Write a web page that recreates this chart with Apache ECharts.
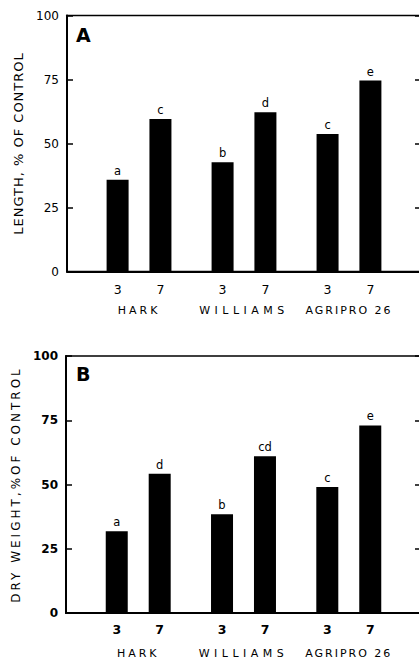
<!DOCTYPE html>
<html><head><meta charset="utf-8">
<script src="https://cdn.jsdelivr.net/npm/echarts@6/dist/echarts.min.js"></script>
<style>
html,body{margin:0;padding:0;background:#fff;}
#c{width:419px;height:659px;}
text[style*="lsYA"]{letter-spacing:1px;}
text[style*="lsYB"]{letter-spacing:3px;}
text[style*="lsH"]{letter-spacing:3px;}
text[style*="lsW"]{letter-spacing:4.5px;}
text[style*="lsP"]{letter-spacing:2px;}
</style></head><body><div id="c"></div>
<script>
// ---- data ----
const cultivars = ['HARK', 'WILLIAMS', 'AGRIPRO 26'];
const days = ['3', '7'];
const lengthDay3 = [35.8, 42.7, 53.7];
const lengthDay7 = [59.6, 62.2, 74.6];
const dryDay3 = [31.8, 38.4, 49.0];
const dryDay7 = [54.2, 61.0, 73.0];
const lengthLetters3 = ['a', 'b', 'c'];
const lengthLetters7 = ['c', 'd', 'e'];
const dryLetters3 = ['a', 'b', 'c'];
const dryLetters7 = ['d', 'cd', 'e'];
const yTicks = [0, 25, 50, 75, 100];
const yTitles = ['LENGTH, % OF CONTROL', 'DRY WEIGHT,%OF CONTROL'];
const panelLabels = ['A', 'B'];

// ---- layout / style ----
const HALF = 0.204, XMIN = -0.686, XMAX = 2.686;
const FF = 'DejaVu Sans';
const nameKeys = ['h', 'w', 'p'];
const panels = [
  {top: 15.5, height: 256, left: 67, bold: 'normal', d3: lengthDay3, d7: lengthDay7, l3: lengthLetters3, l7: lengthLetters7,
   dayMargin: 11, nameMargin: 33, yName: 'lsYA', yNameSize: 13, yNameGap: 40, titleTop: 25},
  {top: 356, height: 257, left: 66, bold: 'bold', d3: dryDay3, d7: dryDay7, l3: dryLetters3, l7: dryLetters7,
   dayMargin: 10, nameMargin: 35, yName: 'lsYB', yNameSize: 12, yNameGap: 42, titleTop: 364}
];

const option = {
  animation: false,
  backgroundColor: '#fff',
  title: [], grid: [], xAxis: [], yAxis: [], series: []
};

panels.forEach((p, i) => {
  option.title.push({
    text: panelLabels[i], left: 76, top: p.titleTop, padding: 0,
    textStyle: {fontSize: 19, fontWeight: 'bold', color: '#000', fontFamily: FF}
  });
  option.grid.push({
    left: p.left, top: p.top, width: 421 - p.left, height: p.height,
    show: true, borderColor: '#000', borderWidth: 1.5, backgroundColor: 'transparent',
    containLabel: false, outerBoundsMode: 'none'
  });
  const dayPos = [];
  cultivars.forEach((c, g) => { dayPos.push(g - HALF, g + HALF); });
  option.xAxis.push({
    type: 'value', gridIndex: i, min: XMIN, max: XMAX, position: 'bottom',
    splitLine: {show: false},
    axisLine: {show: true, onZero: false, lineStyle: {color: '#000', width: 2}},
    axisTick: {show: false},
    axisLabel: {
      show: true, customValues: dayPos, margin: p.dayMargin,
      fontSize: 12.5, fontWeight: p.bold, color: '#000', fontFamily: FF,
      formatter: v => days[(v - Math.round(v)) > 0 ? 1 : 0]
    }
  });
  option.xAxis.push({
    type: 'value', gridIndex: i, min: XMIN, max: XMAX, position: 'bottom',
    splitLine: {show: false}, axisLine: {show: false, onZero: false}, axisTick: {show: false},
    axisLabel: {
      show: true, customValues: [0, 1, 2], margin: p.nameMargin,
      fontSize: 11, color: '#000', fontFamily: FF,
      formatter: v => '{' + nameKeys[Math.round(v)] + '|' + cultivars[Math.round(v)] + '}',
      rich: {
        h: {fontFamily: FF + ', lsH', align: 'center', fontSize: 11, color: '#000'},
        w: {fontFamily: FF + ', lsW', align: 'center', fontSize: 11, color: '#000'},
        p: {fontFamily: FF + ', lsP', align: 'center', fontSize: 11, color: '#000'}
      }
    }
  });
  option.yAxis.push({
    type: 'value', gridIndex: i, min: yTicks[0], max: yTicks[yTicks.length - 1],
    interval: yTicks[1] - yTicks[0], position: 'left',
    name: yTitles[i], nameLocation: 'middle', nameRotate: 90, nameGap: p.yNameGap,
    nameTextStyle: {fontSize: p.yNameSize, color: '#000', fontFamily: FF + ', ' + p.yName},
    splitLine: {show: false},
    axisLine: {show: true, onZero: false, lineStyle: {color: '#000', width: 2}},
    axisTick: {show: true, inside: true, length: 6, lineStyle: {color: '#000', width: 1.5}},
    axisLabel: {margin: 8, fontSize: 12, fontWeight: p.bold, color: '#000', fontFamily: FF}
  });
  option.yAxis.push({
    type: 'value', gridIndex: i, min: yTicks[0], max: yTicks[yTicks.length - 1],
    interval: yTicks[1] - yTicks[0], position: 'right',
    splitLine: {show: false}, axisLine: {show: true, onZero: false, lineStyle: {color: '#000', width: 1.5}},
    axisTick: {show: true, inside: true, length: 6, lineStyle: {color: '#000', width: 1.5}},
    axisLabel: {show: false}
  });
  const data = [], letters = [];
  cultivars.forEach((c, g) => {
    data.push([g - HALF, p.d3[g]], [g + HALF, p.d7[g]]);
    letters.push(p.l3[g], p.l7[g]);
  });
  option.series.push({
    type: 'bar', xAxisIndex: 2 * i, yAxisIndex: 2 * i, data: data, barWidth: 22,
    itemStyle: {color: '#000'},
    label: {
      show: true, position: 'top', distance: 3, fontSize: 11.5, color: '#000', fontFamily: FF,
      formatter: prm => letters[prm.dataIndex]
    }
  });
});

const chart = echarts.init(document.getElementById('c'), null, {renderer: 'svg'});
chart.setOption(option);
</script></body></html>
